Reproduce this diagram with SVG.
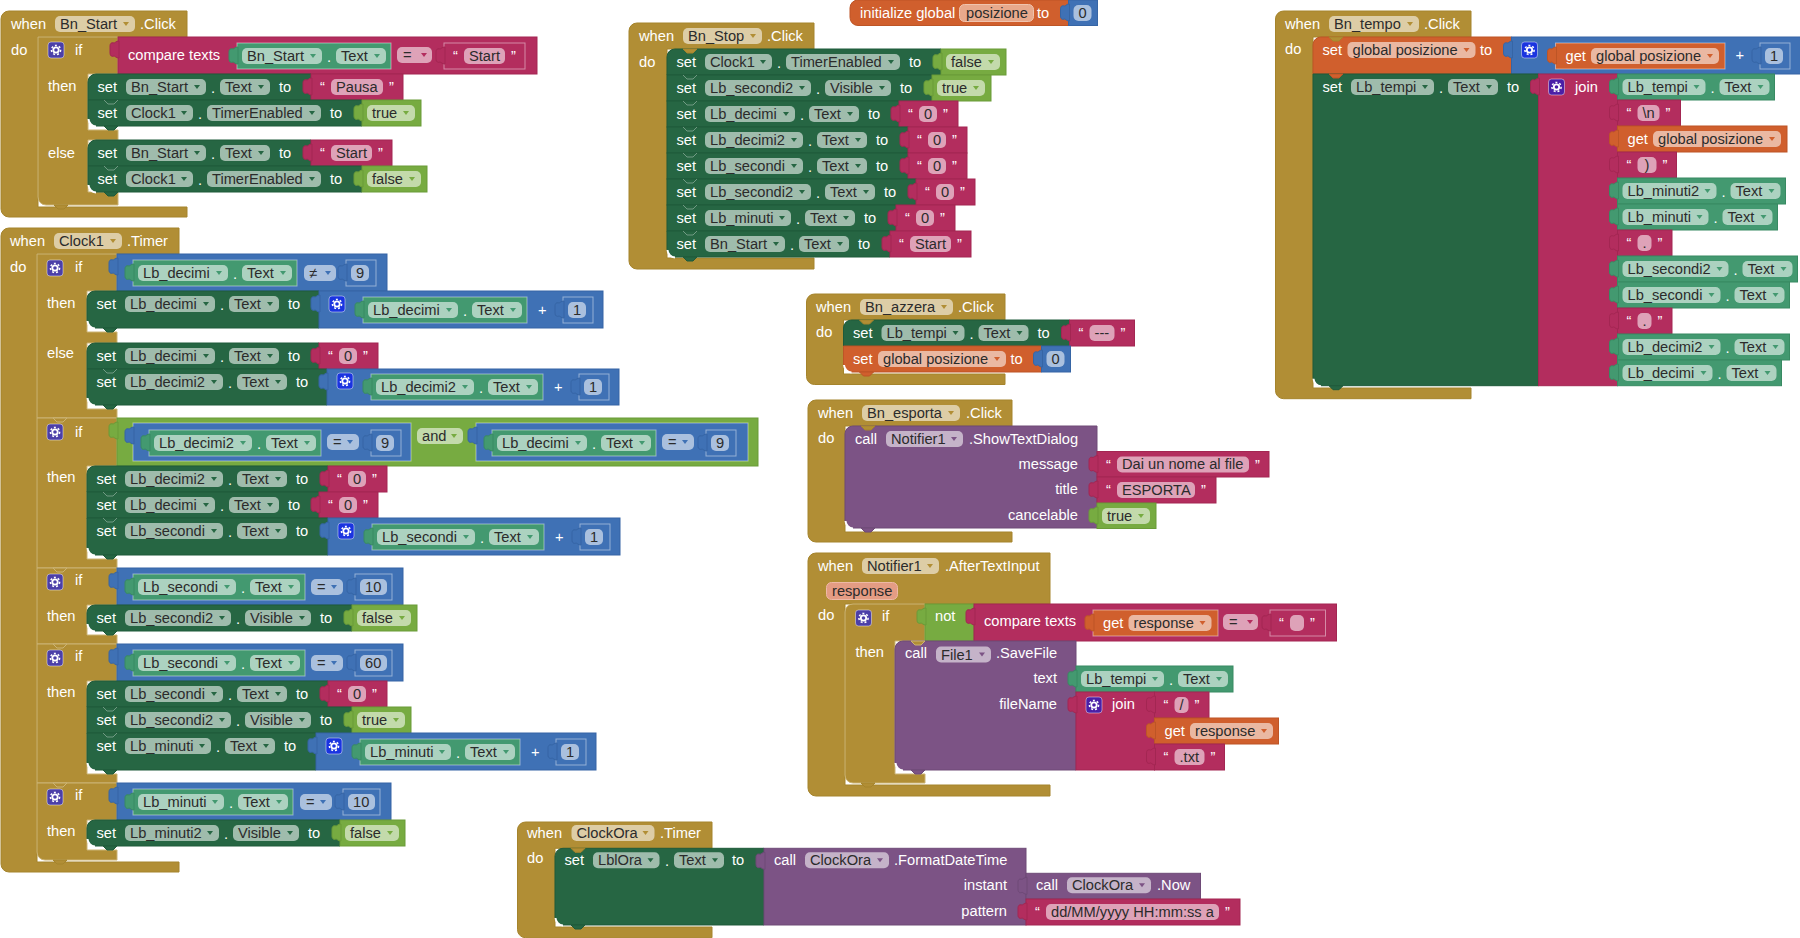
<svg xmlns="http://www.w3.org/2000/svg" width="1800" height="938" viewBox="0 0 1800 938">
<style>
text{font-family:"Liberation Sans",Arial,sans-serif;font-size:14.67px;fill:#fff}
.d{fill:#2b2b2b}
.e{text-anchor:end}
.f{fill:#fff;fill-opacity:.56;stroke:none}
.au{fill:#b18e35;stroke:#a5842c}
.ai{fill:#b18e35;stroke:#cbb374}
.s{fill:#266643;stroke:#1f5a3a}
.g{fill:#439970;stroke:#388a62}
.t{fill:#b32d5e;stroke:#a32652}
.b{fill:#77ab41;stroke:#6a9b38}
.m{fill:#3f71b5;stroke:#3665a5}
.o{fill:#d05f2d;stroke:#bd5526}
.p{fill:#7c5385;stroke:#6e4a77}
.h{stroke:#fff;stroke-opacity:.45}
.wh{fill:none;stroke:#fff;stroke-width:2}
.nl{fill:none;stroke:#fff;stroke-opacity:.35}
.g1{fill:#4b3fa8}.g2{fill:#1a34e0}.g3{fill:#4a1fa6}
</style>
<defs>
<path id="v" d="M1 4C-2 4-3 6-4 6-7 5-8 7-8 9V16C-8 19-6 20-4 19-3 19-2 21 1 21Z"/>
<path id="a" stroke="none" d="M0 0h6l-3 4z"/>
<path id="n" class="nl" d="M16 0l4 4h6l4-4"/>
<path id="b" d="M16 0l4 4h6l4-4z"/>
<g id="k"><path d="M16 0l4 4h6l4-4z"/><path class="wh" d="M.5-7a8 8 0 0 0 7.5 7.5"/></g>
<g id="w"><rect width="16" height="16" rx="3" stroke="#fff" stroke-opacity=".45"/><circle cx="8" cy="8" r="2.7" fill="none" stroke="#fff" stroke-width="1.8"/><circle cx="8" cy="8" r="4.6" fill="none" stroke="#fff" stroke-width="1.5" stroke-dasharray="2 2"/></g>
</defs>

<g id="when-bn-start">
<path class="au" d="M1 19a8 8 0 0 1 8-8H187V37H38V207H187V217H9a8 8 0 0 1-8-8z"/>
<text x="11" y="29">when</text><rect class="f" x="55" y="16" width="80" height="16" rx="5"/><text class="d" x="60" y="29">Bn_Start</text><use href="#a" class="au" x="123" y="22"/><text x="140" y="29">.Click</text><text x="11" y="55">do</text>
<path class="ai" d="M38 37H118V74H88V130H118V140H88V192H118V205H46a8 8 0 0 1-8-8z"/><use href="#b" class="au" x="38" y="205"/>
<use href="#w" class="g1" x="48" y="42"/><text x="75" y="55">if</text><text x="48" y="91">then</text><text x="48" y="158">else</text>
<g transform="translate(118,37)"><rect class="t" width="419" height="37"/><use href="#v" class="t"/><text x="10" y="23">compare texts</text>
<g transform="translate(119,6)"><rect class="g h" width="154" height="26"/><use href="#v" class="g"/><rect class="f" x="5" y="5" width="80" height="16" rx="5"/><text class="d" x="10" y="17.8">Bn_Start</text><use href="#a" class="g" x="73" y="11"/><text x="90" y="19">.</text><rect class="f" x="99" y="5" width="50" height="16" rx="5"/><text class="d" x="104" y="17.8">Text</text><use href="#a" class="g" x="137" y="11"/></g>
<rect class="f" x="279" y="10" width="35" height="16" rx="5"/><text class="d" x="285" y="23">=</text><use href="#a" class="t" x="303" y="16"/>
<g transform="translate(326,6)"><rect class="t h" width="81" height="26"/><use href="#v" class="t"/><text x="9" y="18">“</text><rect class="f" x="20" y="5" width="41" height="16" rx="5"/><text class="d" x="25" y="17.8">Start</text><text x="67" y="18">”</text></g></g>
<g transform="translate(88,74)"><path class="s" d="M0 8a8 8 0 0 1 8-8H223V26H0z"/><text x="9.5" y="18">set</text><rect class="f" x="38" y="5" width="80" height="16" rx="5"/><text class="d" x="43" y="17.8">Bn_Start</text><use href="#a" class="s" x="106" y="11"/><text x="123" y="19">.</text><rect class="f" x="132" y="5" width="50" height="16" rx="5"/><text class="d" x="137" y="17.8">Text</text><use href="#a" class="s" x="170" y="11"/><text x="191" y="18">to</text>
<g transform="translate(223,0)"><rect class="t" width="92" height="26"/><use href="#v" class="t"/><text x="9" y="18">“</text><rect class="f" x="20" y="5" width="52" height="16" rx="5"/><text class="d" x="25" y="17.8">Pausa</text><text x="78" y="18">”</text></g></g>
<g transform="translate(88,100)"><path class="s" d="M0 0H274V26H8a8 8 0 0 1-8-8z"/><use href="#k" class="s" y="26"/><use href="#n" y="0"/><text x="9.5" y="18">set</text><rect class="f" x="38" y="5" width="67" height="16" rx="5"/><text class="d" x="43" y="17.8">Clock1</text><use href="#a" class="s" x="93" y="11"/><text x="110" y="19">.</text><rect class="f" x="119" y="5" width="114" height="16" rx="5"/><text class="d" x="124" y="17.8">TimerEnabled</text><use href="#a" class="s" x="221" y="11"/><text x="242" y="18">to</text>
<g transform="translate(274,0)"><rect class="b" width="59" height="26"/><use href="#v" class="b"/><rect class="f" x="5" y="5" width="48" height="16" rx="5"/><text class="d" x="10" y="17.8">true</text><use href="#a" class="b" x="41" y="11"/></g></g>
<g transform="translate(88,140)"><path class="s" d="M0 8a8 8 0 0 1 8-8H223V26H0z"/><text x="9.5" y="18">set</text><rect class="f" x="38" y="5" width="80" height="16" rx="5"/><text class="d" x="43" y="17.8">Bn_Start</text><use href="#a" class="s" x="106" y="11"/><text x="123" y="19">.</text><rect class="f" x="132" y="5" width="50" height="16" rx="5"/><text class="d" x="137" y="17.8">Text</text><use href="#a" class="s" x="170" y="11"/><text x="191" y="18">to</text>
<g transform="translate(223,0)"><rect class="t" width="81" height="26"/><use href="#v" class="t"/><text x="9" y="18">“</text><rect class="f" x="20" y="5" width="41" height="16" rx="5"/><text class="d" x="25" y="17.8">Start</text><text x="67" y="18">”</text></g></g>
<g transform="translate(88,166)"><path class="s" d="M0 0H274V26H8a8 8 0 0 1-8-8z"/><use href="#k" class="s" y="26"/><use href="#n" y="0"/><text x="9.5" y="18">set</text><rect class="f" x="38" y="5" width="67" height="16" rx="5"/><text class="d" x="43" y="17.8">Clock1</text><use href="#a" class="s" x="93" y="11"/><text x="110" y="19">.</text><rect class="f" x="119" y="5" width="114" height="16" rx="5"/><text class="d" x="124" y="17.8">TimerEnabled</text><use href="#a" class="s" x="221" y="11"/><text x="242" y="18">to</text>
<g transform="translate(274,0)"><rect class="b" width="65" height="26"/><use href="#v" class="b"/><rect class="f" x="5" y="5" width="54" height="16" rx="5"/><text class="d" x="10" y="17.8">false</text><use href="#a" class="b" x="47" y="11"/></g></g>
</g>

<g id="when-clock1">
<path class="au" d="M1 236a8 8 0 0 1 8-8H179V254H37V862H179V872H9a8 8 0 0 1-8-8z"/>
<text x="10" y="246">when</text><rect class="f" x="54" y="233" width="68" height="16" rx="5"/><text class="d" x="59" y="246">Clock1</text><use href="#a" class="au" x="110" y="239"/><text x="127" y="246">.Timer</text><text x="10" y="272">do</text>

<path class="ai" d="M37 254H117V291H87V332H117V343H87V409H117V418H37z"/>
<use href="#w" class="g1" x="47" y="260"/><text x="75" y="272">if</text><text x="47" y="308">then</text><text x="47" y="358">else</text>
<g transform="translate(117,254)"><rect class="m" width="270" height="37"/><use href="#v" class="m"/>
<g transform="translate(16,6)"><rect class="g h" width="164" height="26"/><use href="#v" class="g"/><rect class="f" x="5" y="5" width="90" height="16" rx="5"/><text class="d" x="10" y="17.8">Lb_decimi</text><use href="#a" class="g" x="83" y="11"/><text x="100" y="19">.</text><rect class="f" x="109" y="5" width="50" height="16" rx="5"/><text class="d" x="114" y="17.8">Text</text><use href="#a" class="g" x="147" y="11"/></g>
<rect class="f" x="187" y="11" width="32" height="16" rx="5"/><text class="d" x="192" y="24">≠</text><use href="#a" class="m" x="208" y="17"/>
<g transform="translate(229,6)"><rect class="m h" width="30" height="26"/><use href="#v" class="m"/><rect class="f" x="5" y="5" width="18" height="16" rx="5"/><text class="d" x="10" y="17.8">9</text></g></g>
<g transform="translate(87,291)"><path class="s" d="M0 8a8 8 0 0 1 8-8H232V37H8a8 8 0 0 1-8-8z"/><use href="#k" class="s" y="37"/><text x="9.5" y="18">set</text><rect class="f" x="38" y="5" width="90" height="16" rx="5"/><text class="d" x="43" y="17.8">Lb_decimi</text><use href="#a" class="s" x="116" y="11"/><text x="133" y="19">.</text><rect class="f" x="142" y="5" width="50" height="16" rx="5"/><text class="d" x="147" y="17.8">Text</text><use href="#a" class="s" x="180" y="11"/><text x="201" y="18">to</text>
<g transform="translate(232,0)"><rect class="m" width="284" height="37"/><use href="#v" class="m"/><use href="#w" class="g2" x="10" y="5"/>
<g transform="translate(44,6)"><rect class="g h" width="164" height="26"/><use href="#v" class="g"/><rect class="f" x="5" y="5" width="90" height="16" rx="5"/><text class="d" x="10" y="17.8">Lb_decimi</text><use href="#a" class="g" x="83" y="11"/><text x="100" y="19">.</text><rect class="f" x="109" y="5" width="50" height="16" rx="5"/><text class="d" x="114" y="17.8">Text</text><use href="#a" class="g" x="147" y="11"/></g>
<text x="219" y="24">+</text><g transform="translate(244,6)"><rect class="m h" width="30" height="26"/><use href="#v" class="m"/><rect class="f" x="5" y="5" width="18" height="16" rx="5"/><text class="d" x="10" y="17.8">1</text></g></g></g>
<g transform="translate(87,343)"><path class="s" d="M0 8a8 8 0 0 1 8-8H232V26H0z"/><text x="9.5" y="18">set</text><rect class="f" x="38" y="5" width="90" height="16" rx="5"/><text class="d" x="43" y="17.8">Lb_decimi</text><use href="#a" class="s" x="116" y="11"/><text x="133" y="19">.</text><rect class="f" x="142" y="5" width="50" height="16" rx="5"/><text class="d" x="147" y="17.8">Text</text><use href="#a" class="s" x="180" y="11"/><text x="201" y="18">to</text>
<g transform="translate(232,0)"><rect class="t" width="59" height="26"/><use href="#v" class="t"/><text x="9" y="18">“</text><rect class="f" x="20" y="5" width="18" height="16" rx="5"/><text class="d" x="25" y="17.8">0</text><text x="44" y="18">”</text></g></g>
<g transform="translate(87,369)"><path class="s" d="M0 0H240V36H8a8 8 0 0 1-8-8z"/><use href="#k" class="s" y="36"/><use href="#n" y="0"/><text x="9.5" y="18">set</text><rect class="f" x="38" y="5" width="98" height="16" rx="5"/><text class="d" x="43" y="17.8">Lb_decimi2</text><use href="#a" class="s" x="124" y="11"/><text x="141" y="19">.</text><rect class="f" x="150" y="5" width="50" height="16" rx="5"/><text class="d" x="155" y="17.8">Text</text><use href="#a" class="s" x="188" y="11"/><text x="209" y="18">to</text>
<g transform="translate(240,0)"><rect class="m" width="292" height="36"/><use href="#v" class="m"/><use href="#w" class="g2" x="10" y="4"/>
<g transform="translate(44,5)"><rect class="g h" width="172" height="26"/><use href="#v" class="g"/><rect class="f" x="5" y="5" width="98" height="16" rx="5"/><text class="d" x="10" y="17.8">Lb_decimi2</text><use href="#a" class="g" x="91" y="11"/><text x="108" y="19">.</text><rect class="f" x="117" y="5" width="50" height="16" rx="5"/><text class="d" x="122" y="17.8">Text</text><use href="#a" class="g" x="155" y="11"/></g>
<text x="227" y="23">+</text><g transform="translate(252,5)"><rect class="m h" width="30" height="26"/><use href="#v" class="m"/><rect class="f" x="5" y="5" width="18" height="16" rx="5"/><text class="d" x="10" y="17.8">1</text></g></g></g>

<path class="ai" d="M37 418H117V466H87V559H117V568H37z"/><use href="#b" class="ai" x="37" y="418"/>
<use href="#w" class="g1" x="47" y="424"/><text x="75" y="437">if</text><text x="47" y="482">then</text>
<g transform="translate(117,418)"><rect class="b" width="641" height="48"/><use href="#v" class="b"/>
<g transform="translate(16,5)"><rect class="m h" width="278" height="38"/><use href="#v" class="m"/>
<g transform="translate(16,7)"><rect class="g h" width="172" height="26"/><use href="#v" class="g"/><rect class="f" x="5" y="5" width="98" height="16" rx="5"/><text class="d" x="10" y="17.8">Lb_decimi2</text><use href="#a" class="g" x="91" y="11"/><text x="108" y="19">.</text><rect class="f" x="117" y="5" width="50" height="16" rx="5"/><text class="d" x="122" y="17.8">Text</text><use href="#a" class="g" x="155" y="11"/></g>
<rect class="f" x="194" y="11" width="32" height="16" rx="5"/><text class="d" x="200" y="24">=</text><use href="#a" class="m" x="214" y="17"/>
<g transform="translate(238,7)"><rect class="m h" width="30" height="26"/><use href="#v" class="m"/><rect class="f" x="5" y="5" width="18" height="16" rx="5"/><text class="d" x="10" y="17.8">9</text></g></g>
<rect class="f" x="300" y="10" width="46" height="16" rx="5"/><text class="d" x="305" y="23">and</text><use href="#a" class="b" x="334" y="16"/>
<g transform="translate(359,5)"><rect class="m h" width="272" height="38"/><use href="#v" class="m"/>
<g transform="translate(16,7)"><rect class="g h" width="164" height="26"/><use href="#v" class="g"/><rect class="f" x="5" y="5" width="90" height="16" rx="5"/><text class="d" x="10" y="17.8">Lb_decimi</text><use href="#a" class="g" x="83" y="11"/><text x="100" y="19">.</text><rect class="f" x="109" y="5" width="50" height="16" rx="5"/><text class="d" x="114" y="17.8">Text</text><use href="#a" class="g" x="147" y="11"/></g>
<rect class="f" x="186" y="11" width="32" height="16" rx="5"/><text class="d" x="192" y="24">=</text><use href="#a" class="m" x="206" y="17"/>
<g transform="translate(230,7)"><rect class="m h" width="30" height="26"/><use href="#v" class="m"/><rect class="f" x="5" y="5" width="18" height="16" rx="5"/><text class="d" x="10" y="17.8">9</text></g></g></g>
<g transform="translate(87,466)"><path class="s" d="M0 8a8 8 0 0 1 8-8H241V26H0z"/><text x="9.5" y="18">set</text><rect class="f" x="38" y="5" width="98" height="16" rx="5"/><text class="d" x="43" y="17.8">Lb_decimi2</text><use href="#a" class="s" x="124" y="11"/><text x="141" y="19">.</text><rect class="f" x="150" y="5" width="50" height="16" rx="5"/><text class="d" x="155" y="17.8">Text</text><use href="#a" class="s" x="188" y="11"/><text x="209" y="18">to</text>
<g transform="translate(241,0)"><rect class="t" width="59" height="26"/><use href="#v" class="t"/><text x="9" y="18">“</text><rect class="f" x="20" y="5" width="18" height="16" rx="5"/><text class="d" x="25" y="17.8">0</text><text x="44" y="18">”</text></g></g>
<g transform="translate(87,492)"><rect class="s" width="232" height="26"/><use href="#n" y="0"/><text x="9.5" y="18">set</text><rect class="f" x="38" y="5" width="90" height="16" rx="5"/><text class="d" x="43" y="17.8">Lb_decimi</text><use href="#a" class="s" x="116" y="11"/><text x="133" y="19">.</text><rect class="f" x="142" y="5" width="50" height="16" rx="5"/><text class="d" x="147" y="17.8">Text</text><use href="#a" class="s" x="180" y="11"/><text x="201" y="18">to</text>
<g transform="translate(232,0)"><rect class="t" width="59" height="26"/><use href="#v" class="t"/><text x="9" y="18">“</text><rect class="f" x="20" y="5" width="18" height="16" rx="5"/><text class="d" x="25" y="17.8">0</text><text x="44" y="18">”</text></g></g>
<g transform="translate(87,518)"><path class="s" d="M0 0H241V37H8a8 8 0 0 1-8-8z"/><use href="#k" class="s" y="37"/><use href="#n" y="0"/><text x="9.5" y="18">set</text><rect class="f" x="38" y="5" width="98" height="16" rx="5"/><text class="d" x="43" y="17.8">Lb_secondi</text><use href="#a" class="s" x="124" y="11"/><text x="141" y="19">.</text><rect class="f" x="150" y="5" width="50" height="16" rx="5"/><text class="d" x="155" y="17.8">Text</text><use href="#a" class="s" x="188" y="11"/><text x="209" y="18">to</text>
<g transform="translate(241,0)"><rect class="m" width="292" height="37"/><use href="#v" class="m"/><use href="#w" class="g2" x="10" y="5"/>
<g transform="translate(44,6)"><rect class="g h" width="172" height="26"/><use href="#v" class="g"/><rect class="f" x="5" y="5" width="98" height="16" rx="5"/><text class="d" x="10" y="17.8">Lb_secondi</text><use href="#a" class="g" x="91" y="11"/><text x="108" y="19">.</text><rect class="f" x="117" y="5" width="50" height="16" rx="5"/><text class="d" x="122" y="17.8">Text</text><use href="#a" class="g" x="155" y="11"/></g>
<text x="227" y="24">+</text><g transform="translate(252,6)"><rect class="m h" width="30" height="26"/><use href="#v" class="m"/><rect class="f" x="5" y="5" width="18" height="16" rx="5"/><text class="d" x="10" y="17.8">1</text></g></g></g>

<path class="ai" d="M37 568H117V605H87V635H117V644H37z"/><use href="#b" class="ai" x="37" y="568"/>
<use href="#w" class="g1" x="47" y="574"/><text x="75" y="585">if</text><text x="47" y="621">then</text>
<g transform="translate(117,568)"><rect class="m" width="286" height="37"/><use href="#v" class="m"/>
<g transform="translate(16,6)"><rect class="g h" width="172" height="26"/><use href="#v" class="g"/><rect class="f" x="5" y="5" width="98" height="16" rx="5"/><text class="d" x="10" y="17.8">Lb_secondi</text><use href="#a" class="g" x="91" y="11"/><text x="108" y="19">.</text><rect class="f" x="117" y="5" width="50" height="16" rx="5"/><text class="d" x="122" y="17.8">Text</text><use href="#a" class="g" x="155" y="11"/></g>
<rect class="f" x="194" y="11" width="32" height="16" rx="5"/><text class="d" x="200" y="24">=</text><use href="#a" class="m" x="214" y="17"/>
<g transform="translate(238,6)"><rect class="m h" width="37" height="26"/><use href="#v" class="m"/><rect class="f" x="5" y="5" width="27" height="16" rx="5"/><text class="d" x="10" y="17.8">10</text></g></g>
<g transform="translate(87,605)"><path class="s" d="M0 8a8 8 0 0 1 8-8H265V26H8a8 8 0 0 1-8-8z"/><use href="#k" class="s" y="26"/><text x="9.5" y="18">set</text><rect class="f" x="38" y="5" width="106" height="16" rx="5"/><text class="d" x="43" y="17.8">Lb_secondi2</text><use href="#a" class="s" x="132" y="11"/><text x="149" y="19">.</text><rect class="f" x="158" y="5" width="66" height="16" rx="5"/><text class="d" x="163" y="17.8">Visible</text><use href="#a" class="s" x="212" y="11"/><text x="233" y="18">to</text>
<g transform="translate(265,0)"><rect class="b" width="65" height="26"/><use href="#v" class="b"/><rect class="f" x="5" y="5" width="54" height="16" rx="5"/><text class="d" x="10" y="17.8">false</text><use href="#a" class="b" x="47" y="11"/></g></g>

<path class="ai" d="M37 644H117V681H87V774H117V783H37z"/><use href="#b" class="ai" x="37" y="644"/>
<use href="#w" class="g1" x="47" y="650"/><text x="75" y="661">if</text><text x="47" y="697">then</text>
<g transform="translate(117,644)"><rect class="m" width="286" height="37"/><use href="#v" class="m"/>
<g transform="translate(16,6)"><rect class="g h" width="172" height="26"/><use href="#v" class="g"/><rect class="f" x="5" y="5" width="98" height="16" rx="5"/><text class="d" x="10" y="17.8">Lb_secondi</text><use href="#a" class="g" x="91" y="11"/><text x="108" y="19">.</text><rect class="f" x="117" y="5" width="50" height="16" rx="5"/><text class="d" x="122" y="17.8">Text</text><use href="#a" class="g" x="155" y="11"/></g>
<rect class="f" x="194" y="11" width="32" height="16" rx="5"/><text class="d" x="200" y="24">=</text><use href="#a" class="m" x="214" y="17"/>
<g transform="translate(238,6)"><rect class="m h" width="37" height="26"/><use href="#v" class="m"/><rect class="f" x="5" y="5" width="27" height="16" rx="5"/><text class="d" x="10" y="17.8">60</text></g></g>
<g transform="translate(87,681)"><path class="s" d="M0 8a8 8 0 0 1 8-8H241V26H0z"/><text x="9.5" y="18">set</text><rect class="f" x="38" y="5" width="98" height="16" rx="5"/><text class="d" x="43" y="17.8">Lb_secondi</text><use href="#a" class="s" x="124" y="11"/><text x="141" y="19">.</text><rect class="f" x="150" y="5" width="50" height="16" rx="5"/><text class="d" x="155" y="17.8">Text</text><use href="#a" class="s" x="188" y="11"/><text x="209" y="18">to</text>
<g transform="translate(241,0)"><rect class="t" width="59" height="26"/><use href="#v" class="t"/><text x="9" y="18">“</text><rect class="f" x="20" y="5" width="18" height="16" rx="5"/><text class="d" x="25" y="17.8">0</text><text x="44" y="18">”</text></g></g>
<g transform="translate(87,707)"><rect class="s" width="265" height="26"/><use href="#n" y="0"/><text x="9.5" y="18">set</text><rect class="f" x="38" y="5" width="106" height="16" rx="5"/><text class="d" x="43" y="17.8">Lb_secondi2</text><use href="#a" class="s" x="132" y="11"/><text x="149" y="19">.</text><rect class="f" x="158" y="5" width="66" height="16" rx="5"/><text class="d" x="163" y="17.8">Visible</text><use href="#a" class="s" x="212" y="11"/><text x="233" y="18">to</text>
<g transform="translate(265,0)"><rect class="b" width="59" height="26"/><use href="#v" class="b"/><rect class="f" x="5" y="5" width="48" height="16" rx="5"/><text class="d" x="10" y="17.8">true</text><use href="#a" class="b" x="41" y="11"/></g></g>
<g transform="translate(87,733)"><path class="s" d="M0 0H229V37H8a8 8 0 0 1-8-8z"/><use href="#k" class="s" y="37"/><use href="#n" y="0"/><text x="9.5" y="18">set</text><rect class="f" x="38" y="5" width="86" height="16" rx="5"/><text class="d" x="43" y="17.8">Lb_minuti</text><use href="#a" class="s" x="112" y="11"/><text x="129" y="19">.</text><rect class="f" x="138" y="5" width="50" height="16" rx="5"/><text class="d" x="143" y="17.8">Text</text><use href="#a" class="s" x="176" y="11"/><text x="197" y="18">to</text>
<g transform="translate(229,0)"><rect class="m" width="280" height="37"/><use href="#v" class="m"/><use href="#w" class="g2" x="10" y="5"/>
<g transform="translate(44,6)"><rect class="g h" width="160" height="26"/><use href="#v" class="g"/><rect class="f" x="5" y="5" width="86" height="16" rx="5"/><text class="d" x="10" y="17.8">Lb_minuti</text><use href="#a" class="g" x="79" y="11"/><text x="96" y="19">.</text><rect class="f" x="105" y="5" width="50" height="16" rx="5"/><text class="d" x="110" y="17.8">Text</text><use href="#a" class="g" x="143" y="11"/></g>
<text x="215" y="24">+</text><g transform="translate(240,6)"><rect class="m h" width="30" height="26"/><use href="#v" class="m"/><rect class="f" x="5" y="5" width="18" height="16" rx="5"/><text class="d" x="10" y="17.8">1</text></g></g></g>

<path class="ai" d="M37 783H117V820H87V850H117V860H45a8 8 0 0 1-8-8z"/><use href="#b" class="ai" x="37" y="783"/><use href="#b" class="au" x="37" y="860"/>
<use href="#w" class="g1" x="47" y="789"/><text x="75" y="800">if</text><text x="47" y="836">then</text>
<g transform="translate(117,783)"><rect class="m" width="274" height="37"/><use href="#v" class="m"/>
<g transform="translate(16,6)"><rect class="g h" width="160" height="26"/><use href="#v" class="g"/><rect class="f" x="5" y="5" width="86" height="16" rx="5"/><text class="d" x="10" y="17.8">Lb_minuti</text><use href="#a" class="g" x="79" y="11"/><text x="96" y="19">.</text><rect class="f" x="105" y="5" width="50" height="16" rx="5"/><text class="d" x="110" y="17.8">Text</text><use href="#a" class="g" x="143" y="11"/></g>
<rect class="f" x="183" y="11" width="32" height="16" rx="5"/><text class="d" x="189" y="24">=</text><use href="#a" class="m" x="203" y="17"/>
<g transform="translate(226,6)"><rect class="m h" width="37" height="26"/><use href="#v" class="m"/><rect class="f" x="5" y="5" width="27" height="16" rx="5"/><text class="d" x="10" y="17.8">10</text></g></g>
<g transform="translate(87,820)"><path class="s" d="M0 8a8 8 0 0 1 8-8H253V26H8a8 8 0 0 1-8-8z"/><use href="#k" class="s" y="26"/><text x="9.5" y="18">set</text><rect class="f" x="38" y="5" width="94" height="16" rx="5"/><text class="d" x="43" y="17.8">Lb_minuti2</text><use href="#a" class="s" x="120" y="11"/><text x="137" y="19">.</text><rect class="f" x="146" y="5" width="66" height="16" rx="5"/><text class="d" x="151" y="17.8">Visible</text><use href="#a" class="s" x="200" y="11"/><text x="221" y="18">to</text>
<g transform="translate(253,0)"><rect class="b" width="65" height="26"/><use href="#v" class="b"/><rect class="f" x="5" y="5" width="54" height="16" rx="5"/><text class="d" x="10" y="17.8">false</text><use href="#a" class="b" x="47" y="11"/></g></g>
</g>

<g id="global-posizione">
<path class="o" d="M858 0H1068.5V25.5H858a8 8 0 0 1-8-8V8a8 8 0 0 1 8-8z"/>
<text x="860" y="18">initialize global</text><rect x="959.5" y="4.5" width="74" height="17" rx="5" fill="#e8a98c" stroke="#f0c4ae"/><text class="d" x="966" y="18">posizione</text><text x="1037" y="18">to</text>
<g transform="translate(1068.5,0)"><rect class="m" width="29" height="25.5"/><use href="#v" class="m"/><rect class="f" x="5" y="5" width="18" height="16" rx="5"/><text class="d" x="10" y="18">0</text></g>
</g>

<g id="when-bn-stop">
<path class="au" d="M629 31a8 8 0 0 1 8-8H814V49H667V258H814V269H637a8 8 0 0 1-8-8z"/>
<text x="639" y="41">when</text><rect class="f" x="683" y="28" width="79" height="16" rx="5"/><text class="d" x="688" y="41">Bn_Stop</text><use href="#a" class="au" x="750" y="34"/><text x="767" y="41">.Click</text><text x="639" y="66.5">do</text>
<use href="#b" class="au" x="667" y="49"/>
<g transform="translate(667,49)"><path class="s" d="M0 8a8 8 0 0 1 8-8H274V26H0z"/><use href="#b" class="au"/><text x="9.5" y="18">set</text><rect class="f" x="38" y="5" width="67" height="16" rx="5"/><text class="d" x="43" y="17.8">Clock1</text><use href="#a" class="s" x="93" y="11"/><text x="110" y="19">.</text><rect class="f" x="119" y="5" width="114" height="16" rx="5"/><text class="d" x="124" y="17.8">TimerEnabled</text><use href="#a" class="s" x="221" y="11"/><text x="242" y="18">to</text>
<g transform="translate(274,0)"><rect class="b" width="65" height="26"/><use href="#v" class="b"/><rect class="f" x="5" y="5" width="54" height="16" rx="5"/><text class="d" x="10" y="17.8">false</text><use href="#a" class="b" x="47" y="11"/></g></g>
<g transform="translate(667,75)"><rect class="s" width="265" height="26"/><use href="#n" y="0"/><text x="9.5" y="18">set</text><rect class="f" x="38" y="5" width="106" height="16" rx="5"/><text class="d" x="43" y="17.8">Lb_secondi2</text><use href="#a" class="s" x="132" y="11"/><text x="149" y="19">.</text><rect class="f" x="158" y="5" width="66" height="16" rx="5"/><text class="d" x="163" y="17.8">Visible</text><use href="#a" class="s" x="212" y="11"/><text x="233" y="18">to</text>
<g transform="translate(265,0)"><rect class="b" width="59" height="26"/><use href="#v" class="b"/><rect class="f" x="5" y="5" width="48" height="16" rx="5"/><text class="d" x="10" y="17.8">true</text><use href="#a" class="b" x="41" y="11"/></g></g>
<g transform="translate(667,101)"><rect class="s" width="232" height="26"/><use href="#n" y="0"/><text x="9.5" y="18">set</text><rect class="f" x="38" y="5" width="90" height="16" rx="5"/><text class="d" x="43" y="17.8">Lb_decimi</text><use href="#a" class="s" x="116" y="11"/><text x="133" y="19">.</text><rect class="f" x="142" y="5" width="50" height="16" rx="5"/><text class="d" x="147" y="17.8">Text</text><use href="#a" class="s" x="180" y="11"/><text x="201" y="18">to</text>
<g transform="translate(232,0)"><rect class="t" width="59" height="26"/><use href="#v" class="t"/><text x="9" y="18">“</text><rect class="f" x="20" y="5" width="18" height="16" rx="5"/><text class="d" x="25" y="17.8">0</text><text x="44" y="18">”</text></g></g>
<g transform="translate(667,127)"><rect class="s" width="241" height="26"/><use href="#n" y="0"/><text x="9.5" y="18">set</text><rect class="f" x="38" y="5" width="98" height="16" rx="5"/><text class="d" x="43" y="17.8">Lb_decimi2</text><use href="#a" class="s" x="124" y="11"/><text x="141" y="19">.</text><rect class="f" x="150" y="5" width="50" height="16" rx="5"/><text class="d" x="155" y="17.8">Text</text><use href="#a" class="s" x="188" y="11"/><text x="209" y="18">to</text>
<g transform="translate(241,0)"><rect class="t" width="59" height="26"/><use href="#v" class="t"/><text x="9" y="18">“</text><rect class="f" x="20" y="5" width="18" height="16" rx="5"/><text class="d" x="25" y="17.8">0</text><text x="44" y="18">”</text></g></g>
<g transform="translate(667,153)"><rect class="s" width="241" height="26"/><use href="#n" y="0"/><text x="9.5" y="18">set</text><rect class="f" x="38" y="5" width="98" height="16" rx="5"/><text class="d" x="43" y="17.8">Lb_secondi</text><use href="#a" class="s" x="124" y="11"/><text x="141" y="19">.</text><rect class="f" x="150" y="5" width="50" height="16" rx="5"/><text class="d" x="155" y="17.8">Text</text><use href="#a" class="s" x="188" y="11"/><text x="209" y="18">to</text>
<g transform="translate(241,0)"><rect class="t" width="59" height="26"/><use href="#v" class="t"/><text x="9" y="18">“</text><rect class="f" x="20" y="5" width="18" height="16" rx="5"/><text class="d" x="25" y="17.8">0</text><text x="44" y="18">”</text></g></g>
<g transform="translate(667,179)"><rect class="s" width="249" height="26"/><use href="#n" y="0"/><text x="9.5" y="18">set</text><rect class="f" x="38" y="5" width="106" height="16" rx="5"/><text class="d" x="43" y="17.8">Lb_secondi2</text><use href="#a" class="s" x="132" y="11"/><text x="149" y="19">.</text><rect class="f" x="158" y="5" width="50" height="16" rx="5"/><text class="d" x="163" y="17.8">Text</text><use href="#a" class="s" x="196" y="11"/><text x="217" y="18">to</text>
<g transform="translate(249,0)"><rect class="t" width="59" height="26"/><use href="#v" class="t"/><text x="9" y="18">“</text><rect class="f" x="20" y="5" width="18" height="16" rx="5"/><text class="d" x="25" y="17.8">0</text><text x="44" y="18">”</text></g></g>
<g transform="translate(667,205)"><rect class="s" width="229" height="26"/><use href="#n" y="0"/><text x="9.5" y="18">set</text><rect class="f" x="38" y="5" width="86" height="16" rx="5"/><text class="d" x="43" y="17.8">Lb_minuti</text><use href="#a" class="s" x="112" y="11"/><text x="129" y="19">.</text><rect class="f" x="138" y="5" width="50" height="16" rx="5"/><text class="d" x="143" y="17.8">Text</text><use href="#a" class="s" x="176" y="11"/><text x="197" y="18">to</text>
<g transform="translate(229,0)"><rect class="t" width="59" height="26"/><use href="#v" class="t"/><text x="9" y="18">“</text><rect class="f" x="20" y="5" width="18" height="16" rx="5"/><text class="d" x="25" y="17.8">0</text><text x="44" y="18">”</text></g></g>
<g transform="translate(667,231)"><path class="s" d="M0 0H223V26H8a8 8 0 0 1-8-8z"/><use href="#k" class="s" y="26"/><use href="#n" y="0"/><text x="9.5" y="18">set</text><rect class="f" x="38" y="5" width="80" height="16" rx="5"/><text class="d" x="43" y="17.8">Bn_Start</text><use href="#a" class="s" x="106" y="11"/><text x="123" y="19">.</text><rect class="f" x="132" y="5" width="50" height="16" rx="5"/><text class="d" x="137" y="17.8">Text</text><use href="#a" class="s" x="170" y="11"/><text x="191" y="18">to</text>
<g transform="translate(223,0)"><rect class="t" width="81" height="26"/><use href="#v" class="t"/><text x="9" y="18">“</text><rect class="f" x="20" y="5" width="41" height="16" rx="5"/><text class="d" x="25" y="17.8">Start</text><text x="67" y="18">”</text></g></g>
</g>

<g id="when-bn-azzera">
<path class="au" d="M806.5 302a8 8 0 0 1 8-8H1005V320H843.5V374H1005V384.5H814.5a8 8 0 0 1-8-8z"/>
<text x="816" y="312">when</text><rect class="f" x="860" y="299" width="93" height="16" rx="5"/><text class="d" x="865" y="312">Bn_azzera</text><use href="#a" class="au" x="941" y="305"/><text x="958" y="312">.Click</text><text x="816" y="337">do</text>
<g transform="translate(843.5,320)"><path class="s" d="M0 8a8 8 0 0 1 8-8H226V26H0z"/><use href="#b" class="au"/><text x="9.5" y="18">set</text><rect class="f" x="38" y="5" width="83" height="16" rx="5"/><text class="d" x="43" y="17.8">Lb_tempi</text><use href="#a" class="s" x="109" y="11"/><text x="126" y="19">.</text><rect class="f" x="135" y="5" width="50" height="16" rx="5"/><text class="d" x="140" y="17.8">Text</text><use href="#a" class="s" x="173" y="11"/><text x="194" y="18">to</text>
<g transform="translate(226,0)"><rect class="t" width="65" height="26"/><use href="#v" class="t"/><text x="9" y="18">“</text><rect class="f" x="20" y="5" width="25" height="16" rx="5"/><text class="d" x="25" y="17.8">---</text><text x="51" y="18">”</text></g></g>
<g transform="translate(843.5,346)"><path class="o" d="M0 0H198V26H8a8 8 0 0 1-8-8z"/><use href="#k" class="o" y="26"/><text x="9.5" y="18">set</text><rect class="f" x="34.5" y="5" width="128" height="16" rx="5"/><text class="d" x="39.5" y="17.8">global posizione</text><use href="#a" class="o" x="150.5" y="11"/><text x="167" y="18">to</text>
<g transform="translate(198,0)"><rect class="m" width="29" height="26"/><use href="#v" class="m"/><rect class="f" x="5" y="5" width="18" height="16" rx="5"/><text class="d" x="10" y="17.8">0</text></g></g>
</g>

<g id="when-bn-esporta">
<path class="au" d="M808 408a8 8 0 0 1 8-8H1012V426H845V532H1012V542H816a8 8 0 0 1-8-8z"/>
<text x="818" y="417.5">when</text><rect class="f" x="862" y="405" width="98" height="16" rx="5"/><text class="d" x="867" y="418">Bn_esporta</text><use href="#a" class="au" x="948" y="411"/><text x="966" y="417.5">.Click</text><text x="818" y="443">do</text>
<g transform="translate(845,426)"><path class="p" d="M0 8a8 8 0 0 1 8-8H252V102H8a8 8 0 0 1-8-8z"/><use href="#k" class="p" y="102"/><use href="#b" class="au"/><text x="10" y="18">call</text><rect class="f" x="41" y="5" width="77" height="16" rx="5"/><text class="d" x="46" y="17.8">Notifier1</text><use href="#a" class="p" x="106" y="11"/><text x="124" y="18">.ShowTextDialog</text>
<text class="e" x="233" y="43">message</text><text class="e" x="233" y="68">title</text><text class="e" x="233" y="94">cancelable</text></g>
<g transform="translate(1097,451.5)"><rect class="t" width="172" height="25.5"/><use href="#v" class="t"/><text x="9" y="18">“</text><rect class="f" x="20" y="5" width="132" height="16" rx="5"/><text class="d" x="25" y="17.8">Dai un nome al file</text><text x="158" y="18">”</text></g>
<g transform="translate(1097,477)"><rect class="t" width="119" height="26"/><use href="#v" class="t"/><text x="9" y="18">“</text><rect class="f" x="20" y="5" width="78" height="16" rx="5"/><text class="d" x="25" y="17.8">ESPORTA</text><text x="104" y="18">”</text></g>
<g transform="translate(1097,503)"><rect class="b" width="59" height="25.5"/><use href="#v" class="b"/><rect class="f" x="5" y="5" width="48" height="16" rx="5"/><text class="d" x="10" y="17.8">true</text><use href="#a" class="b" x="41" y="11"/></g>
</g>

<g id="when-notifier1">
<path class="au" d="M808 561a8 8 0 0 1 8-8H1050V604H845V785H1050V796H816a8 8 0 0 1-8-8z"/>
<text x="818" y="570.5">when</text><rect class="f" x="862" y="558" width="77" height="16" rx="5"/><text class="d" x="867" y="571">Notifier1</text><use href="#a" class="au" x="927" y="564"/><text x="945" y="570.5">.AfterTextInput</text>
<rect x="826.5" y="582.5" width="71" height="17" rx="5" fill="#e49c84" stroke="#eeb9a6"/><text class="d" x="832" y="596">response</text><text x="818" y="620">do</text>
<path class="ai" d="M845 612a8 8 0 0 1 8-8H925V641H895V774H925V783H853a8 8 0 0 1-8-8z"/><use href="#b" class="au" x="845" y="783"/>
<use href="#w" class="g1" x="855.5" y="610"/><text x="882" y="620.5">if</text><text x="855.5" y="656.5">then</text>
<g transform="translate(925,604)"><rect class="b" width="49" height="37"/><use href="#v" class="b"/><text x="10" y="17">not</text></g>
<g transform="translate(974,604)"><rect class="t" width="362.5" height="37"/><use href="#v" class="t"/><text x="10" y="22">compare texts</text>
<g transform="translate(119,6)"><rect class="o h" width="125" height="26"/><use href="#v" class="o"/><text x="10" y="18">get</text><rect class="f" x="35.5" y="5" width="83" height="16" rx="5"/><text class="d" x="40.5" y="17.8">response</text><use href="#a" class="o" x="106.5" y="11"/></g>
<rect class="f" x="249" y="10" width="35" height="16" rx="5"/><text class="d" x="255" y="23">=</text><use href="#a" class="t" x="273" y="16"/>
<g transform="translate(296,6)"><rect class="t h" width="55.5" height="26"/><use href="#v" class="t"/><text x="9" y="18">“</text><rect class="f" x="20" y="5" width="14" height="16" rx="5"/><text x="40" y="18">”</text></g></g>
<g transform="translate(895,641)"><path class="p" d="M0 8a8 8 0 0 1 8-8H181V129H8a8 8 0 0 1-8-8z"/><use href="#k" class="p" y="129"/><use href="#b" class="ai"/><text x="10" y="17">call</text><rect class="f" x="41" y="5.5" width="55" height="16" rx="5"/><text class="d" x="46" y="18.5">File1</text><use href="#a" class="p" x="84" y="11.5"/><text x="101" y="17">.SaveFile</text>
<text class="e" x="162" y="42">text</text><text class="e" x="162" y="68">fileName</text></g>
<g transform="translate(1076,666)"><rect class="g" width="157" height="26"/><use href="#v" class="g"/><rect class="f" x="5" y="5" width="83" height="16" rx="5"/><text class="d" x="10" y="17.8">Lb_tempi</text><use href="#a" class="g" x="76" y="11"/><text x="93" y="19">.</text><rect class="f" x="102" y="5" width="50" height="16" rx="5"/><text class="d" x="107" y="17.8">Text</text><use href="#a" class="g" x="140" y="11"/></g>
<g transform="translate(1076,692)"><rect class="t" width="78.5" height="78"/><use href="#v" class="t"/><use href="#w" class="g3" x="10" y="5"/><text x="36" y="17">join</text></g>
<g transform="translate(1154.5,692)"><rect class="t" width="54.5" height="26"/><use href="#v" class="t"/><text x="9" y="18">“</text><rect class="f" x="20" y="5" width="14" height="16" rx="5"/><text class="d" x="25" y="17.8">/</text><text x="40" y="18">”</text></g>
<g transform="translate(1154.5,718)"><rect class="o" width="124" height="26"/><use href="#v" class="o"/><text x="10" y="18">get</text><rect class="f" x="35.5" y="5" width="83" height="16" rx="5"/><text class="d" x="40.5" y="17.8">response</text><use href="#a" class="o" x="106.5" y="11"/></g>
<g transform="translate(1154.5,744)"><rect class="t" width="70" height="26"/><use href="#v" class="t"/><text x="9" y="18">“</text><rect class="f" x="20" y="5" width="30" height="16" rx="5"/><text class="d" x="25" y="17.8">.txt</text><text x="56" y="18">”</text></g>
</g>

<g id="when-bn-tempo">
<path class="au" d="M1275.5 19a8 8 0 0 1 8-8H1471V37H1313V388H1471V398.7H1283.5a8 8 0 0 1-8-8z"/>
<text x="1285" y="29">when</text><rect class="f" x="1329" y="16" width="90" height="16" rx="5"/><text class="d" x="1334" y="29">Bn_tempo</text><use href="#a" class="au" x="1407" y="22"/><text x="1424" y="29">.Click</text><text x="1285" y="54">do</text>
<g transform="translate(1313,37)"><path class="o" d="M0 8a8 8 0 0 1 8-8H198.5V37H0z"/><use href="#b" class="au"/><text x="9.5" y="18">set</text><rect class="f" x="34.5" y="5" width="128" height="16" rx="5"/><text class="d" x="39.5" y="17.8">global posizione</text><use href="#a" class="o" x="150.5" y="11"/><text x="167" y="18">to</text>
<g transform="translate(198.5,0)"><rect class="m" width="289" height="37"/><use href="#v" class="m"/><use href="#w" class="g2" x="10" y="5"/>
<g transform="translate(44,6)"><rect class="o h" width="169.5" height="26"/><use href="#v" class="o"/><text x="10" y="18">get</text><rect class="f" x="35.5" y="5" width="128" height="16" rx="5"/><text class="d" x="40.5" y="17.8">global posizione</text><use href="#a" class="o" x="151.5" y="11"/></g>
<text x="224" y="23">+</text><g transform="translate(248.5,6)"><rect class="m h" width="30" height="26"/><use href="#v" class="m"/><rect class="f" x="5" y="5" width="18" height="16" rx="5"/><text class="d" x="10" y="17.8">1</text></g></g></g>
<g transform="translate(1313,74)"><path class="s" d="M0 0H225.5V311.7H8a8 8 0 0 1-8-8z"/><use href="#k" class="s" y="311.7"/><use href="#b" class="o"/><text x="9.5" y="18">set</text><rect class="f" x="38" y="5" width="83" height="16" rx="5"/><text class="d" x="43" y="17.8">Lb_tempi</text><use href="#a" class="s" x="109" y="11"/><text x="126" y="19">.</text><rect class="f" x="135" y="5" width="50" height="16" rx="5"/><text class="d" x="140" y="17.8">Text</text><use href="#a" class="s" x="173" y="11"/><text x="194" y="18">to</text></g>
<g transform="translate(1538.5,74)"><rect class="t" width="79" height="311.7"/><use href="#v" class="t"/><use href="#w" class="g3" x="10" y="5"/><text x="36.5" y="18">join</text></g>
<g transform="translate(1617.5,74)"><rect class="g" width="157" height="26"/><use href="#v" class="g"/><rect class="f" x="5" y="5" width="83" height="16" rx="5"/><text class="d" x="10" y="17.8">Lb_tempi</text><use href="#a" class="g" x="76" y="11"/><text x="93" y="19">.</text><rect class="f" x="102" y="5" width="50" height="16" rx="5"/><text class="d" x="107" y="17.8">Text</text><use href="#a" class="g" x="140" y="11"/></g>
<g transform="translate(1617.5,100)"><rect class="t" width="63" height="26"/><use href="#v" class="t"/><text x="9" y="18">“</text><rect class="f" x="20" y="5" width="22" height="16" rx="5"/><text class="d" x="25" y="17.8">\n</text><text x="48" y="18">”</text></g>
<g transform="translate(1617.5,126)"><rect class="o" width="169.5" height="26"/><use href="#v" class="o"/><text x="10" y="18">get</text><rect class="f" x="35.5" y="5" width="128" height="16" rx="5"/><text class="d" x="40.5" y="17.8">global posizione</text><use href="#a" class="o" x="151.5" y="11"/></g>
<g transform="translate(1617.5,152)"><rect class="t" width="59" height="26"/><use href="#v" class="t"/><text x="9" y="18">“</text><rect class="f" x="20" y="5" width="19" height="16" rx="5"/><text class="d" x="27" y="17.8">)</text><text x="45" y="18">”</text></g>
<g transform="translate(1617.5,178)"><rect class="g" width="168" height="26"/><use href="#v" class="g"/><rect class="f" x="5" y="5" width="94" height="16" rx="5"/><text class="d" x="10" y="17.8">Lb_minuti2</text><use href="#a" class="g" x="87" y="11"/><text x="104" y="19">.</text><rect class="f" x="113" y="5" width="50" height="16" rx="5"/><text class="d" x="118" y="17.8">Text</text><use href="#a" class="g" x="151" y="11"/></g>
<g transform="translate(1617.5,204)"><rect class="g" width="160" height="26"/><use href="#v" class="g"/><rect class="f" x="5" y="5" width="86" height="16" rx="5"/><text class="d" x="10" y="17.8">Lb_minuti</text><use href="#a" class="g" x="79" y="11"/><text x="96" y="19">.</text><rect class="f" x="105" y="5" width="50" height="16" rx="5"/><text class="d" x="110" y="17.8">Text</text><use href="#a" class="g" x="143" y="11"/></g>
<g transform="translate(1617.5,230)"><rect class="t" width="54.5" height="26"/><use href="#v" class="t"/><text x="9" y="18">“</text><rect class="f" x="20" y="5" width="14" height="16" rx="5"/><text class="d" x="25" y="17.8">.</text><text x="40" y="18">”</text></g>
<g transform="translate(1617.5,256)"><rect class="g" width="180" height="26"/><use href="#v" class="g"/><rect class="f" x="5" y="5" width="106" height="16" rx="5"/><text class="d" x="10" y="17.8">Lb_secondi2</text><use href="#a" class="g" x="99" y="11"/><text x="116" y="19">.</text><rect class="f" x="125" y="5" width="50" height="16" rx="5"/><text class="d" x="130" y="17.8">Text</text><use href="#a" class="g" x="163" y="11"/></g>
<g transform="translate(1617.5,282)"><rect class="g" width="172" height="26"/><use href="#v" class="g"/><rect class="f" x="5" y="5" width="98" height="16" rx="5"/><text class="d" x="10" y="17.8">Lb_secondi</text><use href="#a" class="g" x="91" y="11"/><text x="108" y="19">.</text><rect class="f" x="117" y="5" width="50" height="16" rx="5"/><text class="d" x="122" y="17.8">Text</text><use href="#a" class="g" x="155" y="11"/></g>
<g transform="translate(1617.5,308)"><rect class="t" width="54.5" height="26"/><use href="#v" class="t"/><text x="9" y="18">“</text><rect class="f" x="20" y="5" width="14" height="16" rx="5"/><text class="d" x="25" y="17.8">.</text><text x="40" y="18">”</text></g>
<g transform="translate(1617.5,334)"><rect class="g" width="172" height="26"/><use href="#v" class="g"/><rect class="f" x="5" y="5" width="98" height="16" rx="5"/><text class="d" x="10" y="17.8">Lb_decimi2</text><use href="#a" class="g" x="91" y="11"/><text x="108" y="19">.</text><rect class="f" x="117" y="5" width="50" height="16" rx="5"/><text class="d" x="122" y="17.8">Text</text><use href="#a" class="g" x="155" y="11"/></g>
<g transform="translate(1617.5,360)"><rect class="g" width="164" height="25.7"/><use href="#v" class="g"/><rect class="f" x="5" y="5" width="90" height="16" rx="5"/><text class="d" x="10" y="17.8">Lb_decimi</text><use href="#a" class="g" x="83" y="11"/><text x="100" y="19">.</text><rect class="f" x="109" y="5" width="50" height="16" rx="5"/><text class="d" x="114" y="17.8">Text</text><use href="#a" class="g" x="147" y="11"/></g>
</g>

<g id="when-clockora">
<path class="au" d="M517.5 830a8 8 0 0 1 8-8H712V848.3H555V927H712V937.7H525.5a8 8 0 0 1-8-8z"/>
<text x="527" y="838">when</text><rect class="f" x="571.5" y="825" width="83" height="16" rx="5"/><text class="d" x="576.5" y="838">ClockOra</text><use href="#a" class="au" x="642.5" y="831"/><text x="660" y="838">.Timer</text><text x="527" y="863">do</text>
<g transform="translate(555,848.3)"><path class="s" d="M0 8a8 8 0 0 1 8-8H209V76.7H8a8 8 0 0 1-8-8z"/><use href="#k" class="s" y="76.7"/><use href="#b" class="au"/><text x="9.5" y="17">set</text><rect class="f" x="38" y="4" width="66.5" height="16" rx="5"/><text class="d" x="43" y="17">LblOra</text><use href="#a" class="s" x="92.5" y="10"/><text x="110" y="18">.</text><rect class="f" x="119" y="4" width="50" height="16" rx="5"/><text class="d" x="124" y="17">Text</text><use href="#a" class="s" x="157" y="10"/><text x="177" y="17">to</text></g>
<g transform="translate(764,848.3)"><rect class="p" width="262" height="76.7"/><use href="#v" class="p"/><text x="10" y="17">call</text><rect class="f" x="41" y="4" width="84" height="16" rx="5"/><text class="d" x="46" y="17">ClockOra</text><use href="#a" class="p" x="113" y="10"/><text x="130" y="17">.FormatDateTime</text>
<text class="e" x="243" y="42">instant</text><text class="e" x="243" y="68">pattern</text></g>
<g transform="translate(1026,873.3)"><rect class="p" width="174.5" height="25.7"/><use href="#v" class="p"/><text x="10" y="17">call</text><rect class="f" x="41" y="4" width="84" height="16" rx="5"/><text class="d" x="46" y="17">ClockOra</text><use href="#a" class="p" x="113" y="10"/><text x="131" y="17">.Now</text></g>
<g transform="translate(1026,899)"><rect class="t" width="214" height="26"/><use href="#v" class="t"/><text x="9" y="18">“</text><rect class="f" x="20" y="5" width="173" height="16" rx="5"/><text class="d" x="25" y="17.8">dd/MM/yyyy HH:mm:ss a</text><text x="199" y="18">”</text></g>
</g>
</svg>
